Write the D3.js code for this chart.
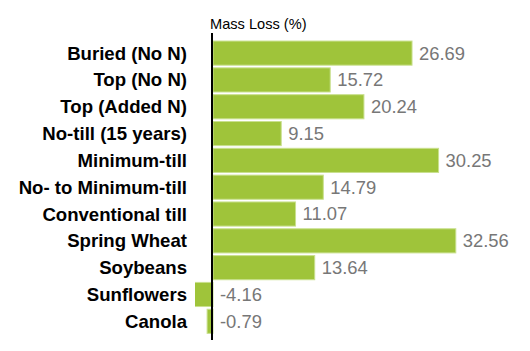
<!DOCTYPE html>
<html>
<head>
<meta charset="utf-8">
<script src="https://cdn.jsdelivr.net/npm/d3@7"></script>
<style>
  body { margin: 0; background: #fff; }
  text { font-family: "Liberation Sans", Arial, Helvetica, sans-serif; }
</style>
</head>
<body>
<div id="chart"></div>
<script>
const categories = ["Buried (No N)", "Top (No N)", "Top (Added N)", "No-till (15 years)",
  "Minimum-till", "No- to Minimum-till", "Conventional till", "Spring Wheat",
  "Soybeans", "Sunflowers", "Canola"];
const massLoss = [26.69, 15.72, 20.24, 9.15, 30.25, 14.79, 11.07, 32.56, 13.64, -4.16, -0.79];
const axisTitle = "Mass Loss (%)";

const width = 530, height = 351;

const svg = d3.select("#chart")
  .append("svg")
  .attr("width", width)
  .attr("height", height);

const x = d3.scaleLinear().domain([0, 35]).range([213, 474]);
const y = d3.scaleBand().domain(categories).range([39.7, 334.7])
  .paddingInner(0.1).paddingOuter(0.05);

// plot area is clipped just right of the labels
svg.append("clipPath").attr("id", "plotclip")
  .append("rect").attr("x", 195).attr("y", 0).attr("width", width - 195).attr("height", height);

svg.append("g")
  .attr("clip-path", "url(#plotclip)")
  .selectAll("rect")
  .data(massLoss)
  .join("rect")
  .attr("x", d => Math.min(x(d), x(0)))
  .attr("y", (d, i) => y(categories[i]))
  .attr("width", d => Math.abs(x(d) - x(0)))
  .attr("height", y.bandwidth())
  .attr("fill", "#9fc43a")
  .attr("stroke", "#c9e08e")
  .attr("stroke-width", 1);

// category labels
svg.append("g")
  .selectAll("text")
  .data(categories)
  .join("text")
  .attr("x", 187)
  .attr("y", d => y(d) + y.bandwidth() / 2)
  .attr("dy", "0.35em")
  .attr("text-anchor", "end")
  .attr("font-size", 18.6)
  .attr("font-weight", "bold")
  .attr("fill", "#000")
  .text(d => d);

// value labels
svg.append("g")
  .selectAll("text")
  .data(massLoss)
  .join("text")
  .attr("x", d => Math.max(x(d), x(0)) + 7)
  .attr("y", (d, i) => y(categories[i]) + y.bandwidth() / 2)
  .attr("dy", "0.35em")
  .attr("font-size", 18.4)
  .attr("fill", "#777")
  .text(d => d.toFixed(2));

// zero axis line
svg.append("line")
  .attr("x1", x(0) - 1).attr("x2", x(0) - 1)
  .attr("y1", 33).attr("y2", 340)
  .attr("stroke", "#000")
  .attr("stroke-width", 2);

svg.append("text")
  .attr("x", 210)
  .attr("y", 28.5)
  .attr("font-size", 14.6)
  .attr("fill", "#000")
  .text(axisTitle);
</script>
</body>
</html>
